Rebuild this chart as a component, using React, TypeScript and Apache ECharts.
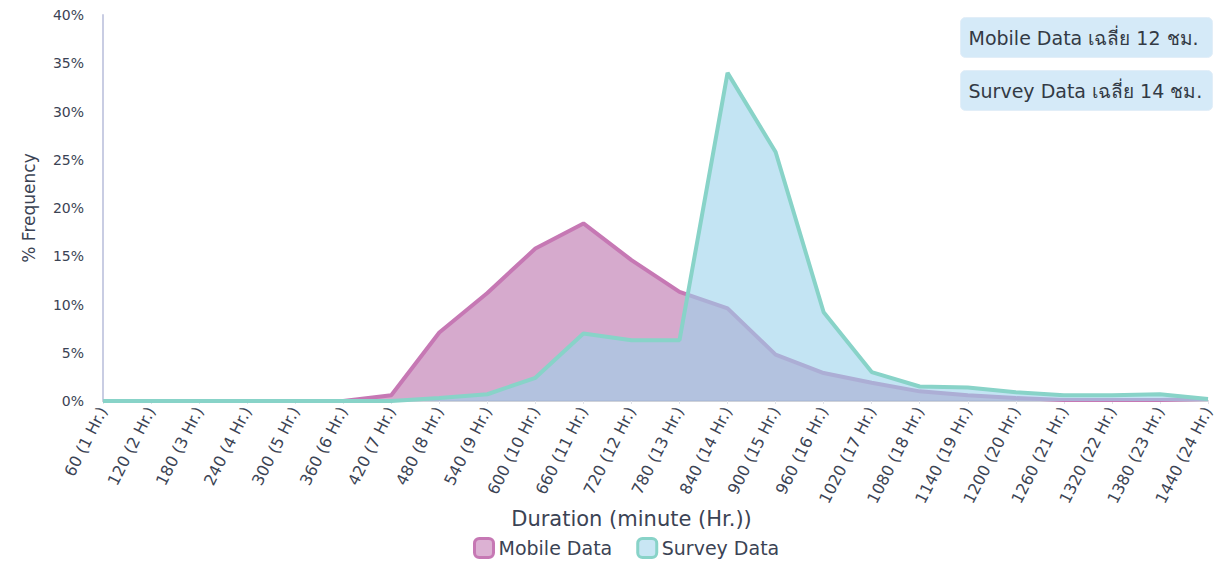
import React, { useEffect, useRef } from "react";
import * as echarts from "echarts";

const categories = [
  "60 (1 Hr.)", "120 (2 Hr.)", "180 (3 Hr.)", "240 (4 Hr.)", "300 (5 Hr.)", "360 (6 Hr.)",
  "420 (7 Hr.)", "480 (8 Hr.)", "540 (9 Hr.)", "600 (10 Hr.)", "660 (11 Hr.)", "720 (12 Hr.)",
  "780 (13 Hr.)", "840 (14 Hr.)", "900 (15 Hr.)", "960 (16 Hr.)", "1020 (17 Hr.)", "1080 (18 Hr.)",
  "1140 (19 Hr.)", "1200 (20 Hr.)", "1260 (21 Hr.)", "1320 (22 Hr.)", "1380 (23 Hr.)", "1440 (24 Hr.)",
];

const mobileData = [0, 0, 0, 0, 0, 0, 0.6, 7.1, 11.2, 15.8, 18.4, 14.6, 11.3, 9.6, 4.8, 2.9, 1.9, 1.0, 0.6, 0.3, 0.1, 0.1, 0.1, 0.2];
const surveyData = [0, 0, 0, 0, 0, 0, 0, 0.3, 0.7, 2.4, 7.0, 6.3, 6.3, 34.0, 25.8, 9.2, 3.0, 1.5, 1.4, 0.9, 0.6, 0.6, 0.7, 0.2];

const yTicks = { min: 0, max: 40, interval: 5 };
const notes = ["Mobile Data เฉลี่ย 12 ชม.", "Survey Data เฉลี่ย 14 ชม."];

const FONT = "'DejaVu Sans', 'Noto Sans', sans-serif";
const TXT = "#3b4354";

export default function App() {
  const ref = useRef<HTMLDivElement>(null);
  useEffect(() => {
    if (!ref.current) return;
    const chart = echarts.init(ref.current, undefined, { renderer: "svg" });
    chart.setOption({
      animation: false,
      textStyle: { fontFamily: FONT },
      grid: { left: 103, right: 10, top: 15, bottom: 161, containLabel: false },
      legend: {
        bottom: 3,
        left: 473,
        padding: 0,
        itemWidth: 19,
        itemHeight: 19,
        itemGap: 24,
        icon: "roundRect",
        textStyle: { fontSize: 19, color: TXT, fontFamily: FONT },
        data: [
          { name: "Mobile Data", itemStyle: { color: "#dcb1d3", borderColor: "#c678b4", borderWidth: 3 } },
          { name: "Survey Data", itemStyle: { color: "#c8e6f4", borderColor: "#88d3c8", borderWidth: 3 } },
        ],
      },
      xAxis: {
        type: "category",
        data: categories,
        boundaryGap: false,
        name: "Duration (minute (Hr.))",
        nameLocation: "middle",
        nameGap: 107,
        nameMoveOverlap: false,
        nameTextStyle: { fontSize: 21, color: TXT, fontFamily: FONT, padding: [0, 48, 0, 0] },
        axisLine: { lineStyle: { color: "#cfd2d9", width: 2 } },
        axisTick: { show: true, alignWithLabel: true, lineStyle: { color: "#e0e2e8" }, length: 3 },
        axisLabel: { rotate: 63, fontSize: 16, color: TXT, margin: 7, interval: 0 },
        splitLine: { show: false },
      },
      yAxis: {
        type: "value",
        min: yTicks.min,
        max: yTicks.max,
        interval: yTicks.interval,
        name: "% Frequency",
        nameLocation: "middle",
        nameGap: 66,
        nameMoveOverlap: false,
        nameTextStyle: { fontSize: 17, color: TXT, fontFamily: FONT },
        axisLine: { show: true, lineStyle: { color: "#c9cde3", width: 2 } },
        axisTick: { show: false },
        axisLabel: { formatter: "{value}%", fontSize: 14, color: TXT, margin: 19 },
        splitLine: { show: false },
      },
      series: [
        {
          name: "Mobile Data",
          type: "line",
          data: mobileData,
          symbol: "none",
          lineStyle: { color: "#c678b4", width: 4 },
          itemStyle: { color: "#c678b4" },
          areaStyle: { color: "#bb71ac", opacity: 0.6 },
          z: 2,
        },
        {
          name: "Survey Data",
          type: "line",
          data: surveyData,
          symbol: "none",
          lineStyle: { color: "#88d3c8", width: 4 },
          itemStyle: { color: "#88d3c8" },
          areaStyle: { color: "#9bd2eb", opacity: 0.6 },
          z: 3,
        },
      ],
      graphic: notes.map((t, i) => ({
        type: "group",
        left: 960,
        top: 17 + i * 53,
        children: [
          {
            type: "rect",
            shape: { x: 0, y: 0, width: 252, height: 40, r: 5 },
            style: { fill: "#d5eaf8", stroke: "#e2eef8", lineWidth: 1 },
          },
          {
            type: "text",
            x: 8,
            y: 20,
            style: { text: t, fontSize: 19, fill: "#333a45", fontFamily: FONT, verticalAlign: "middle" },
          },
        ],
      })),
    });
    return () => chart.dispose();
  }, []);
  return <div ref={ref} style={{ width: 1218, height: 562, position: "absolute", left: 0, top: 0 }} />;
}
